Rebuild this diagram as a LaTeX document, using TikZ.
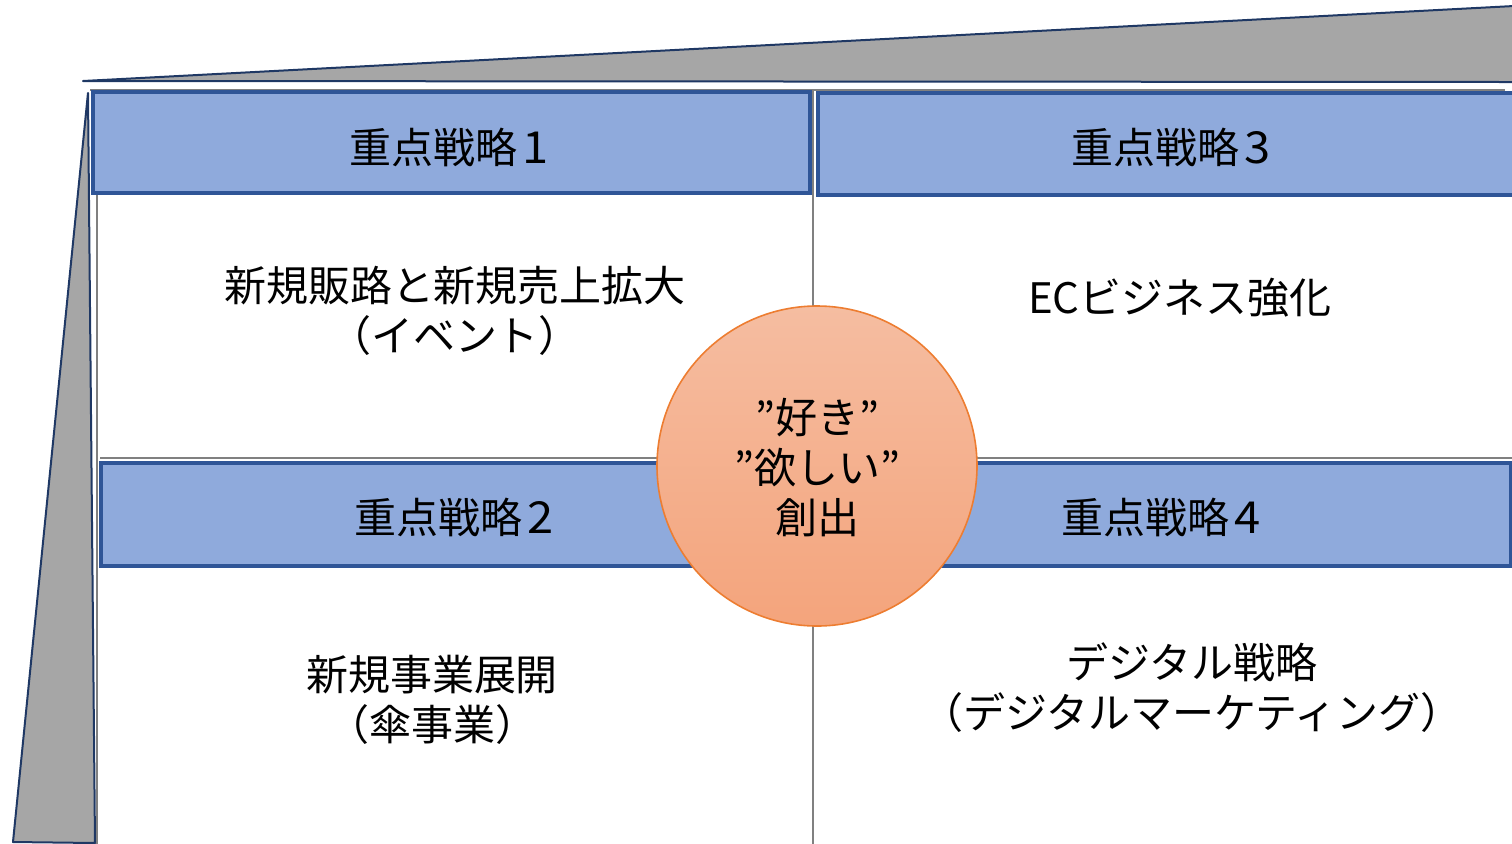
\documentclass[tikz,border=0pt]{standalone}
\usepackage{fontspec}
\setmainfont{Noto Sans CJK JP}
\definecolor{bevelgray}{HTML}{A6A6A6}
\definecolor{navy}{HTML}{1F3864}
\definecolor{gridgray}{HTML}{808080}
\definecolor{headfill}{HTML}{8FAADC}
\definecolor{headline}{HTML}{2F5597}
\definecolor{circtop}{HTML}{F5BDA1}
\definecolor{circbot}{HTML}{F4A47C}
\definecolor{circline}{HTML}{ED7D31}
\newcommand{\dg}[1]{\makebox[0.8em][l]{\hspace{0.12em}\scalebox{1.12}[1.05]{#1}}}
\begin{document}
\begin{tikzpicture}[x=0.5pt,y=-0.5pt,
  bevel/.style={fill=bevelgray,draw=navy,line width=1pt,line join=round},
  gridline/.style={draw=gridgray,line width=1pt},
  headbox/.style={fill=headfill,draw=headline,line width=1.8pt},
  txt/.style={font=\fontsize{21pt}{25pt}\selectfont,align=center,inner sep=0pt,text=black}]
\useasboundingbox (0,0) rectangle (1512,843);
\clip (0,0) rectangle (1512,843);
% bevels
\draw[bevel] (83,81) -- (1514,6) -- (1514,82) -- cycle;
\draw[bevel] (88,93) -- (13,842) -- (95,843) -- cycle;
% grid lines
\draw[gridline] (90,90) -- (1505,90);
\draw[gridline] (97,90) -- (97,845);
\draw[gridline] (100,458) -- (1514,458);
\draw[gridline] (813,90) -- (813,845);
% headers
\draw[headbox] (93,92) rectangle (810,193);
\draw[headbox] (818,93) rectangle (1516,195);
\draw[headbox] (101,463) rectangle (810,566);
\draw[headbox] (818,463) rectangle (1511,566);
\node[txt] (h1) at (450,147) {重点戦略\dg{1}};
\node[txt] (h3) at (1172,147) {重点戦略\dg{3}};
\node[txt] (h2) at (455,517) {重点戦略\dg{2}};
\node[txt] (h4) at (1162,517) {重点戦略\dg{4}};
% bodies
\node[txt] (b1) at (455,311) {新規販路と新規売上拡大\\（イベント）};
\node[txt] (b3) at (1180,298) {ECビジネス強化};
\node[txt] (b2) at (432,700) {新規事業展開\\（傘事業）};
\node[txt] (b4) at (1192,688) {デジタル戦略\\（デジタルマーケティング）};
% center circle
\shade[top color=circtop,bottom color=circbot] (817,466) circle[radius=160];
\draw[circline,line width=0.8pt] (817,466) circle[radius=160];
\node[txt] (c) at (817,468) {”好き”\\”欲しい”\\創出};
\end{tikzpicture}
\end{document}
